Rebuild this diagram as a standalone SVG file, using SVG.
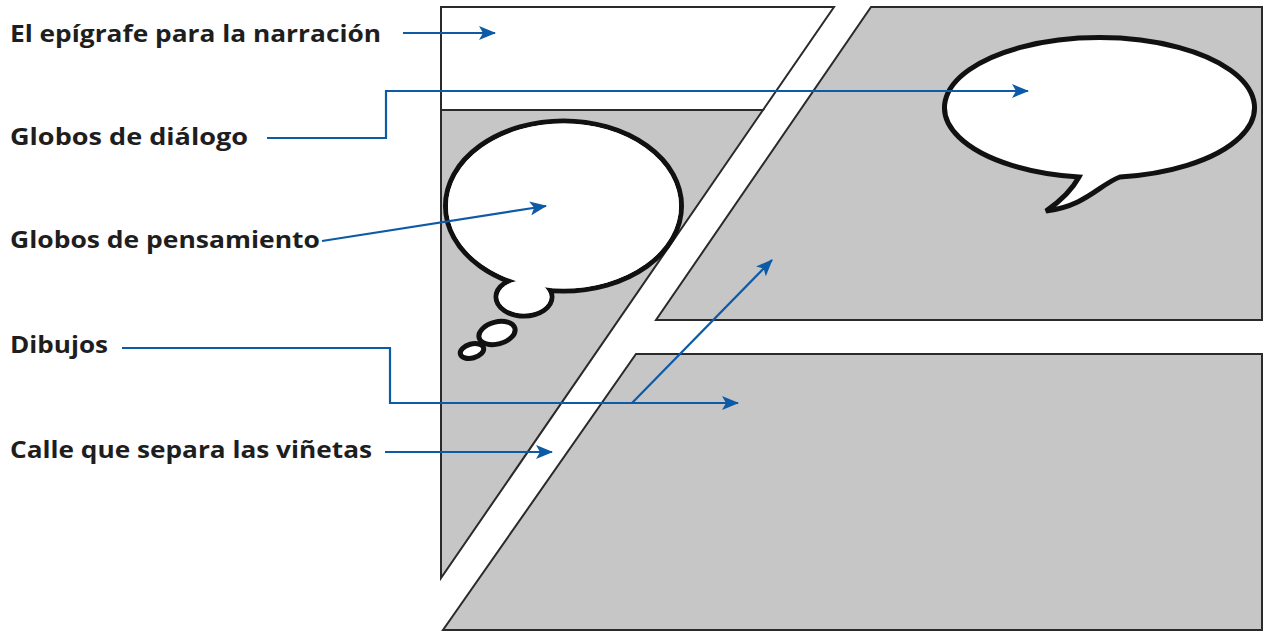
<svg xmlns="http://www.w3.org/2000/svg" width="1264" height="632" viewBox="0 0 1264 632">
<style>
.lbl{font-family:"Open Sans","Noto Sans","Liberation Sans",sans-serif;font-size:24px;font-weight:700;fill:#1e1e1e}
.pw{fill:#ffffff;stroke:#2a2a2a;stroke-width:2;stroke-linejoin:miter}
.pg{fill:#c6c6c6;stroke:#2a2a2a;stroke-width:2;stroke-linejoin:miter}
.bub{fill:#ffffff;stroke:#111111;stroke-width:5}
.wf{fill:#ffffff;stroke:none}
.con{fill:none;stroke:#0d5aa7;stroke-width:2.2}
</style>
<defs>
<marker id="ah" markerUnits="userSpaceOnUse" markerWidth="18" markerHeight="14" refX="16" refY="7" orient="auto">
<path d="M0,0 L17,7 L0,14 L4,7 Z" fill="#0d5aa7"/>
</marker>
</defs>
<rect width="1264" height="632" fill="#ffffff"/>
<g id="panel-epigrafe">
<polygon class="pw" points="441,7 834,7 763,110 441,110"/>
</g>
<g id="panel-izquierda">
<polygon class="pg" points="441,110 763,110 441,578"/>
</g>
<g id="panel-superior-derecha">
<polygon class="pg" points="871,7 1262,7 1262,320 656,320"/>
</g>
<g id="panel-inferior">
<polygon class="pg" points="636,354 1262,354 1262,630 443,630"/>
</g>
<g id="globo-pensamiento">
<ellipse class="bub" cx="563.5" cy="206" rx="118" ry="85"/>
<ellipse class="bub" cx="524" cy="297" rx="28" ry="19"/>
<ellipse class="wf" cx="563.5" cy="206" rx="115.5" ry="82.5"/>
<ellipse class="wf" cx="524" cy="297" rx="25.5" ry="16.5"/>
<ellipse class="bub" cx="497" cy="333" rx="18.5" ry="11" transform="rotate(-15 497 333)"/>
<ellipse class="bub" cx="472" cy="351" rx="12" ry="7" transform="rotate(-15 472 351)"/>
</g>
<g id="globo-dialogo">
<path class="bub" d="M1079,177 A155,70 0 1 1 1120,177 C1100,184 1086,206 1046,211 C1062,200 1072,190 1079,177 Z"/>
</g>
<g id="etiquetas">
<text class="lbl" x="10" y="42" textLength="371" lengthAdjust="spacingAndGlyphs">El epígrafe para la narración</text>
<text class="lbl" x="10" y="145" textLength="238" lengthAdjust="spacingAndGlyphs">Globos de diálogo</text>
<text class="lbl" x="10" y="248" textLength="310" lengthAdjust="spacingAndGlyphs">Globos de pensamiento</text>
<text class="lbl" x="10" y="353" textLength="98" lengthAdjust="spacingAndGlyphs">Dibujos</text>
<text class="lbl" x="10" y="458" textLength="362" lengthAdjust="spacingAndGlyphs">Calle que separa las viñetas</text>
</g>
<g id="conectores">
<path class="con" d="M403,33 H495" marker-end="url(#ah)"/>
<path class="con" d="M267,138 H386 V91 H1028" marker-end="url(#ah)"/>
<path class="con" d="M322,241 L546,206" marker-end="url(#ah)"/>
<path class="con" d="M122,348 H390 V403 H738" marker-end="url(#ah)"/>
<path class="con" d="M632,403 L772,260" marker-end="url(#ah)"/>
<path class="con" d="M385,452 H552" marker-end="url(#ah)"/>
</g>
</svg>
